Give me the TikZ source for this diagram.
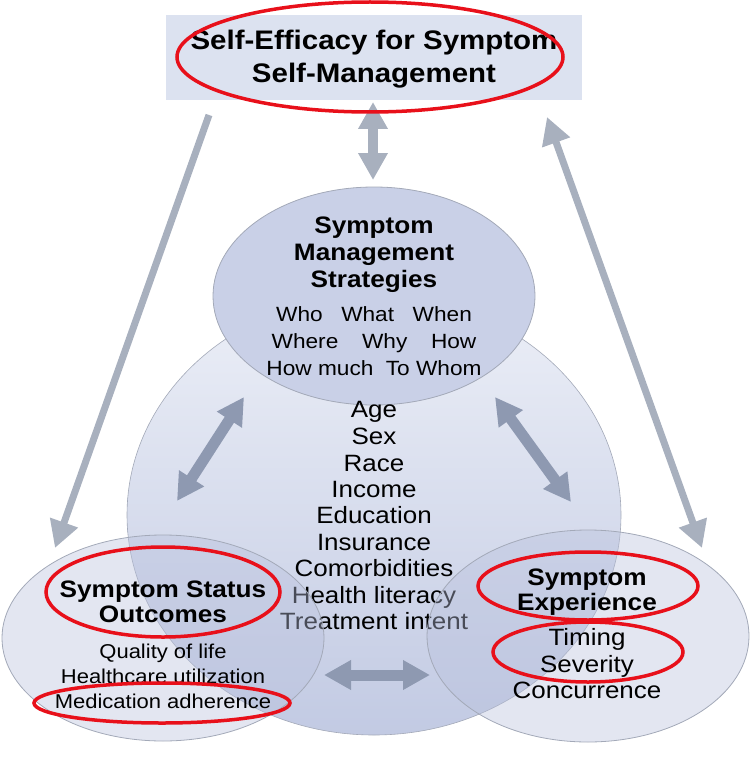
\documentclass[tikz,border=0pt]{standalone}
\usepackage{fontspec}
\setmainfont{Liberation Sans}[FakeStretch=1.1]
\usetikzlibrary{shapes.geometric,arrows.meta}
\definecolor{boxfill}{HTML}{DCE2F0}
\definecolor{smsfill}{HTML}{C9D0E7}
\definecolor{edgegrey}{HTML}{A3A9B8}
\definecolor{ctop}{HTML}{ECEFF7}
\definecolor{cbot}{HTML}{C2CAE3}
\definecolor{lowfill}{HTML}{B8C0DC}
\definecolor{outarrow}{HTML}{A8B0BE}
\definecolor{inarrow}{HTML}{8E99B1}
\definecolor{annot}{HTML}{E8101A}
\begin{document}
\begin{tikzpicture}[x=1pt,y=-1pt,
  >={Triangle[width=28pt,length=27pt]},
  outarr/.style={line width=7pt, draw=outarrow, fill=outarrow},
  inarr/.style={line width=11pt, draw=inarrow, fill=inarrow},
  shapeedge/.style={draw=edgegrey, line width=0.8pt},
  lbl/.style={anchor=base, inner sep=0pt},
  ttl/.style={lbl, font=\bfseries\fontsize{26.8}{30}\selectfont},
  hd/.style={lbl, font=\bfseries\fontsize{23.8}{27}\selectfont},
  smsitem/.style={lbl, font=\fontsize{20.6}{24}\selectfont},
  citem/.style={lbl, font=\fontsize{23.6}{26}\selectfont},
  blitem/.style={lbl, font=\fontsize{20}{24}\selectfont},
  redring/.style={draw=annot, line width=3.5pt}]
\useasboundingbox (0,0) rectangle (750,757);

% top box
\node[rectangle, fill=boxfill, minimum width=416pt, minimum height=85pt, inner sep=0pt] (box) at (374,57.5) {};
\node[ttl] (t1) at (374,50) {Self-Efficacy for Symptom};
\node[ttl] (t2) at (374,83) {Self-Management};

% outer arrows
\coordinate (la1) at (209,115);
\coordinate (la2) at (55,548);
\coordinate (ra1) at (547,117);
\coordinate (ra2) at (702,548);
\draw[outarr,->] (la1) -- (la2);
\draw[outarr,<->] (ra1) -- (ra2);

% big central circle
\node[ellipse, minimum width=494pt, minimum height=440pt, top color=ctop, bottom color=cbot, draw=edgegrey, line width=0.6pt] (big) at (374,515) {};

% top ellipse
\node[ellipse, minimum width=322pt, minimum height=218pt, fill=smsfill, shapeedge] (sms) at (374,296) {};
\coordinate (va1) at (373,102);
\coordinate (va2) at (373,180);
\draw[outarr,<->,line width=10pt] (va1) -- (va2);

% central list
\node[citem] (c1) at (374,417) {Age};
\node[citem] (c2) at (374,444) {Sex};
\node[citem] (c3) at (374,471) {Race};
\node[citem] (c4) at (374,497) {Income};
\node[citem] (c5) at (374,523) {Education};
\node[citem] (c6) at (374,550) {Insurance};
\node[citem] (c7) at (374,576) {Comorbidities};
\node[citem] (c8) at (374,603) {Health literacy};
\node[citem] (c9) at (374,629) {Treatment intent};

% inner arrows
\coordinate (ia1) at (244,397);
\coordinate (ia2) at (177,501);
\coordinate (ib1) at (495,397);
\coordinate (ib2) at (571,502);
\coordinate (ic1) at (324,675);
\coordinate (ic2) at (430,675);
\draw[inarr,<->] (ia1) -- (ia2);
\draw[inarr,<->] (ib1) -- (ib2);
\draw[inarr,<->] (ic1) -- (ic2);

% bottom ellipses
\node[ellipse, minimum width=322pt, minimum height=206pt, fill=lowfill, fill opacity=0.4, shapeedge] (sso) at (163,638) {};
\node[ellipse, minimum width=322pt, minimum height=212pt, fill=lowfill, fill opacity=0.4, shapeedge] (se) at (588,636) {};

% SMS text
\node[hd] (s1) at (374,233) {Symptom};
\node[hd] (s2) at (374,260) {Management};
\node[hd] (s3) at (374,287) {Strategies};
\node[smsitem] (s4) at (374,321) {Who\hspace{0.9em}What\hspace{0.9em}When};
\node[smsitem] (s5) at (374,348) {Where\hspace{1.15em}Why\hspace{1.15em}How};
\node[smsitem] (s6) at (374,375) {How much\hspace{0.6em}To Whom};

% SSO text
\node[hd] (o1) at (163,597) {Symptom Status};
\node[hd] (o2) at (163,622) {Outcomes};
\node[blitem] (o3) at (163,658) {Quality of life};
\node[blitem] (o4) at (163,683) {Healthcare utilization};
\node[blitem] (o5) at (163,708) {Medication adherence};

% SE text
\node[hd] (e1) at (587,585) {Symptom};
\node[hd] (e2) at (587,610) {Experience};
\node[citem] (e3) at (587,645) {Timing};
\node[citem] (e4) at (587,672) {Severity};
\node[citem] (e5) at (587,698) {Concurrence};

% red annotation ellipses
\draw[redring] (370,57) ellipse [x radius=193, y radius=55];
\draw[redring] (163,592) ellipse [x radius=117, y radius=45];
\draw[redring] (162,703) ellipse [x radius=128, y radius=20];
\draw[redring] (588,586) ellipse [x radius=110, y radius=34];
\draw[redring] (588,652) ellipse [x radius=95, y radius=30];
\end{tikzpicture}
\end{document}
